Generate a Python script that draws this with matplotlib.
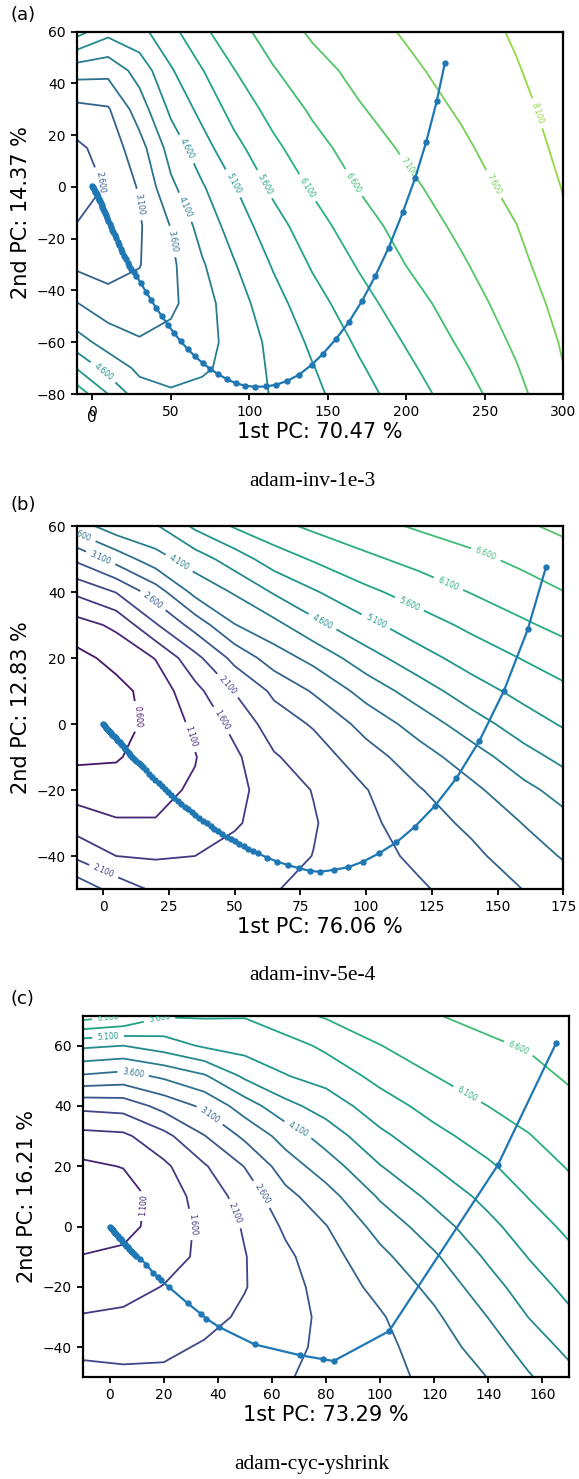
import numpy as np
import matplotlib
matplotlib.use('Agg')
import matplotlib.pyplot as plt
from matplotlib.colors import Normalize

# ---------------- data ----------------
# contour levels used in all three panels
levels = np.arange(0.1, 10.0, 0.5)

# panel (a): loss grid, one list per x node (values from y=-80 up to y=60)
xa = [-10, 10, 30, 50, 70, 90, 115, 140, 170, 200, 235, 270, 300]
ya = [-80, -70, -60, -45, -30, -15, 0, 15, 30, 45, 60]
loss_a = [
    [5.9, 5.08, 4.3, 3.62, 3.0, 2.62, 2.35, 2.5, 2.95, 3.8, 5.3],
    [5.1, 4.4, 3.9, 3.3, 2.9, 2.7, 2.65, 2.8, 3.05, 3.75, 4.75],
    [4.3, 4.0, 3.65, 3.3, 3.08, 3.05, 3.15, 3.4, 3.85, 4.3, 4.95],
    [4.15, 3.95, 3.75, 3.5, 3.5, 3.62, 4.0, 4.3, 4.7, 5.05, 5.45],
    [4.3, 4.0, 3.9, 3.9, 4.05, 4.3, 4.55, 4.9, 5.25, 5.58, 6.0],
    [4.35, 4.3, 4.28, 4.36, 4.56, 4.8, 5.07, 5.44, 5.77, 6.08, 6.4],
    [4.63, 4.67, 4.72, 4.91, 5.14, 5.4, 5.7, 5.98, 6.27, 6.56, 6.83],
    [4.98, 5.07, 5.19, 5.4, 5.65, 5.89, 6.16, 6.42, 6.67, 6.92, 7.17],
    [5.41, 5.54, 5.68, 5.91, 6.15, 6.39, 6.63, 6.83, 7.06, 7.24, 7.41],
    [5.85, 5.99, 6.14, 6.37, 6.61, 6.8, 6.99, 7.18, 7.34, 7.5, 7.65],
    [6.37, 6.52, 6.67, 6.86, 7.04, 7.21, 7.36, 7.51, 7.66, 7.79, 7.9],
    [6.95, 7.07, 7.18, 7.33, 7.47, 7.59, 7.75, 7.88, 7.98, 8.07, 8.15],
    [7.53, 7.59, 7.65, 7.76, 7.88, 8.04, 8.12, 8.2, 8.26, 8.32, 8.36],
]
traj_a_x = [0, 0.3, 0.6, 1.0, 1.5, 1.9, 2.3, 2.8, 3.2, 3.6, 4.0, 4.4, 4.8, 5.3, 5.9,
            6.4, 7.0, 7.6, 8.3, 8.9, 9.5, 10.2, 11.0, 11.7, 12.4, 13.3, 14.2, 15.1,
            16.1, 17.0, 18.0, 19.0, 20.1, 21.2, 22.4, 23.6, 24.9, 26.4, 27.9, 30.9,
            34.0, 37.2, 40.6, 44.2, 48.0, 52.0, 56.3, 60.7, 65.4, 70.2, 75.1, 80.2,
            85.5, 91.2, 97.3, 103.7, 110.5, 117.2, 124.2, 131.8, 139.7, 147.0, 155.1,
            163.4, 171.8, 180.3, 188.8, 197.8, 205.7, 212.7, 219.4, 224.5]
traj_a_y = [0.2, -0.1, -0.5, -0.9, -1.4, -1.9, -2.4, -2.9, -3.4, -3.9, -4.5, -5.0, -5.6,
            -6.2, -6.9, -7.7, -8.5, -9.3, -10.1, -11.0, -12.0, -13.1, -14.2, -15.3,
            -16.5, -17.5, -18.6, -19.9, -21.3, -22.6, -23.9, -25.2, -26.5, -27.8, -29.2,
            -30.5, -31.8, -33.0, -34.3, -37.2, -40.4, -43.5, -46.7, -49.9, -53.2, -56.4,
            -59.7, -62.6, -65.5, -68.0, -70.3, -72.4, -74.2, -75.8, -76.8, -77.2, -77.1,
            -76.4, -74.9, -72.5, -68.7, -64.4, -58.8, -52.2, -44.0, -34.3, -23.4, -9.7,
            3.6, 17.5, 33.2, 47.8]

# panel (b)
xb = [-10, 5, 20, 35, 50, 65, 80, 100, 120, 140, 160, 175]
yb = [-50, -40, -30, -20, -10, 0, 10, 20, 30, 40, 50, 60]
loss_b = [
    [2.95, 2.0, 1.35, 0.9, 0.5, 0.3, 0.3, 0.45, 0.9, 1.7, 2.7, 3.85],
    [2.4, 1.6, 1.15, 0.85, 0.55, 0.4, 0.45, 0.75, 1.2, 2.12, 3.3, 4.4],
    [2.0, 1.55, 1.12, 1.0, 0.85, 0.75, 0.8, 1.12, 2.05, 2.85, 3.9, 4.55],
    [1.78, 1.6, 1.3, 1.15, 1.08, 1.2, 1.45, 1.95, 2.8, 3.75, 4.35, 5.2],
    [1.9, 1.75, 1.55, 1.45, 1.5, 1.75, 2.12, 2.75, 3.58, 4.15, 4.85, 5.65],
    [2.08, 1.9, 1.8, 1.85, 2.05, 2.35, 2.7, 3.35, 3.95, 4.65, 5.35, 5.95],
    [2.2, 2.11, 2.06, 2.12, 2.35, 2.65, 3.15, 3.75, 4.45, 5.05, 5.65, 6.2],
    [2.38, 2.4, 2.48, 2.58, 2.88, 3.28, 3.79, 4.39, 4.97, 5.49, 6.0, 6.44],
    [2.53, 2.71, 2.88, 3.06, 3.38, 3.81, 4.35, 4.91, 5.37, 5.82, 6.26, 6.66],
    [2.83, 2.99, 3.2, 3.48, 3.86, 4.37, 4.88, 5.31, 5.71, 6.12, 6.48, 6.85],
    [3.11, 3.36, 3.62, 3.96, 4.41, 4.87, 5.26, 5.63, 6.03, 6.39, 6.72, 7.04],
    [3.34, 3.64, 3.93, 4.29, 4.74, 5.15, 5.49, 5.86, 6.24, 6.59, 6.9, 7.2],
]
traj_b_x = [0, 0.4, 0.8, 1.2, 1.6, 2.0, 2.4, 2.8, 3.2, 3.6, 4.0, 4.4, 4.8, 5.3, 5.8,
            6.3, 6.8, 7.3, 7.8, 8.4, 9.0, 9.7, 10.4, 11.1, 11.9, 12.7, 13.5, 14.4,
            15.3, 16.4, 17.5, 18.7, 19.9, 21.1, 22.3, 23.5, 24.7, 25.9, 27.1, 28.4,
            29.7, 31.1, 32.4, 33.8, 35.1, 36.5, 38.0, 39.5, 40.9, 42.3, 43.9, 45.4,
            47.0, 48.6, 50.2, 51.8, 53.5, 55.2, 57.0, 58.8, 62.5, 66.2, 70.2, 74.4,
            78.6, 82.4, 87.7, 93.2, 98.9, 104.9, 111.5, 118.6, 126.2, 134.3, 143.1,
            152.4, 161.5, 168.4]
traj_b_y = [0, -0.4, -0.7, -1.1, -1.4, -1.8, -2.1, -2.5, -2.8, -3.2, -3.6, -3.9, -4.3,
            -4.7, -5.2, -5.6, -6.1, -6.5, -7.0, -7.5, -8.1, -8.7, -9.3, -9.9, -10.5,
            -11.2, -11.8, -12.4, -13.1, -14.0, -15.0, -16.0, -17.0, -18.0, -18.9,
            -19.8, -20.7, -21.6, -22.5, -23.3, -24.2, -25.1, -25.9, -26.8, -27.6,
            -28.4, -29.3, -30.1, -30.9, -31.7, -32.5, -33.3, -34.1, -34.8, -35.6,
            -36.4, -37.1, -37.9, -38.6, -39.2, -40.5, -41.7, -42.7, -43.7, -44.5,
            -44.8, -44.2, -43.4, -41.7, -39.2, -35.9, -31.1, -24.8, -16.5, -5.1,
            10.0, 28.7, 47.5]

# panel (c)
xc = [-10, 5, 20, 35, 50, 65, 80, 100, 120, 140, 155, 170]
yc = [-50, -40, -30, -20, -10, 0, 10, 20, 30, 40, 50, 60, 70]
loss_c = [
    [2.3, 1.95, 1.63, 1.37, 1.12, 0.85, 0.8, 1.0, 1.44, 2.23, 3.55, 4.7, 6.35],
    [2.25, 1.9, 1.7, 1.4, 1.2, 0.95, 0.85, 1.12, 1.5, 2.3, 3.43, 4.6, 6.15],
    [2.2, 2.0, 1.82, 1.62, 1.38, 1.3, 1.32, 1.5, 1.95, 2.77, 3.7, 4.85, 5.65],
    [2.3, 2.15, 1.95, 1.8, 1.72, 1.72, 1.82, 2.05, 2.58, 3.2, 4.05, 5.17, 5.65],
    [2.45, 2.32, 2.18, 2.08, 2.08, 2.15, 2.3, 2.62, 3.2, 3.85, 4.7, 5.3, 5.63],
    [2.55, 2.45, 2.38, 2.4, 2.5, 2.68, 2.95, 3.35, 3.8, 4.45, 5.08, 5.4, 5.95],
    [2.78, 2.72, 2.72, 2.8, 2.9, 3.08, 3.4, 3.85, 4.32, 4.82, 5.3, 5.7, 6.15],
    [2.93, 2.97, 3.05, 3.24, 3.47, 3.78, 4.16, 4.58, 4.99, 5.38, 5.75, 6.09, 6.38],
    [3.23, 3.34, 3.51, 3.74, 4.03, 4.37, 4.74, 5.11, 5.46, 5.78, 6.097, 6.34, 6.58],
    [3.61, 3.85, 4.11, 4.4, 4.68, 4.96, 5.25, 5.53, 5.82, 6.103, 6.32, 6.53, 6.73],
    [4.05, 4.32, 4.61, 4.86, 5.12, 5.37, 5.62, 5.85, 6.08, 6.27, 6.46, 6.64, 6.83],
    [4.45, 4.73, 5.0, 5.25, 5.48, 5.71, 5.93, 6.14, 6.31, 6.48, 6.66, 6.82, 6.99],
]
traj_c_x = [0, 0.4, 0.8, 1.2, 1.6, 2.0, 2.5, 3.0, 3.5, 4.0, 4.5, 5.0, 5.5, 6.0, 6.6,
            7.2, 7.8, 8.4, 9.1, 9.9, 11.3, 13.6, 16.0, 17.9, 18.9, 21.9, 28.9, 33.9,
            35.7, 40.4, 53.6, 70.5, 78.9, 82.8, 103.3, 143.5, 165.1]
traj_c_y = [0, -0.4, -0.8, -1.2, -1.7, -2.1, -2.6, -3.1, -3.7, -4.2, -4.7, -5.3, -5.8,
            -6.3, -6.9, -7.5, -8.0, -8.6, -9.2, -9.8, -10.7, -12.6, -15.3, -16.8,
            -17.8, -20.1, -25.5, -29.1, -30.5, -33.3, -39.1, -42.7, -44.0, -44.6,
            -34.7, 20.3, 60.8]

# ---------------- layout ----------------
W, H = 579.0, 1479.0
fig = plt.figure(figsize=(W / 100, H / 100), dpi=100)
norm = Normalize(vmin=levels[0], vmax=levels[-1])
cmap = plt.get_cmap('viridis')

def px_axes(l, t, r, b):
    return fig.add_axes([l / W, 1 - b / H, (r - l) / W, (b - t) / H])

panels = [
    dict(rect=(76.7, 31.7, 563.3, 394.0), x=xa, y=ya, z=loss_a, tx=traj_a_x, ty=traj_a_y,
         xlim=(-10, 300), ylim=(-80, 60), xticks=range(0, 301, 50), yticks=range(-80, 61, 20),
         xlabel='1st PC: 70.47 %', ylabel='2nd PC: 14.37 %', caption='adam-inv-1e-3',
         cap_y=481, letter='(a)', let_y=6,
         labels=[(2.6, (6.3, 2.1)), (3.1, (28.6, -6.9)), (3.6, (51.8, -21)), (4.1, (62.4, -7)),
                 (4.6, (61.3, 15)), (4.6, (6.3, -72)), (5.1, (90, 1.5)), (5.6, (109, 0.8)),
                 (6.1, (136.5, -0.5)), (6.6, (166, 1.5)), (7.1, (201, 7.3)), (7.6, (257, 1.5)),
                 (8.1, (283.5, 28.5))]),
    dict(rect=(76.7, 526.0, 563.3, 889.0), x=xb, y=yb, z=loss_b, tx=traj_b_x, ty=traj_b_y,
         xlim=(-10, 175), ylim=(-50, 60), xticks=range(0, 176, 25), yticks=range(-40, 61, 20),
         xlabel='1st PC: 76.06 %', ylabel='2nd PC: 12.83 %', caption='adam-inv-5e-4',
         cap_y=975, letter='(b)', let_y=496,
         labels=[(0.6, (12.9, 2.2)), (1.1, (33.8, -3.8)), (1.6, (46.4, 1.7)), (2.1, (48.3, 12.3)),
                 (2.1, (-0.4, -45.8)), (2.6, (19.2, 37.6)), (3.1, (-0.4, 51.2)), (3.6, (-8, 58)),
                 (4.1, (29.3, 49.2)), (4.6, (83.1, 30.5)), (5.1, (103.7, 31)), (5.6, (116.6, 36.6)),
                 (6.1, (131.5, 42.8)), (6.6, (145.7, 51.7))]),
    dict(rect=(82.7, 1015.5, 569.3, 1377.3), x=xc, y=yc, z=loss_c, tx=traj_c_x, ty=traj_c_y,
         xlim=(-10, 170), ylim=(-50, 70), xticks=range(0, 161, 20), yticks=range(-40, 61, 20),
         xlabel='1st PC: 73.29 %', ylabel='2nd PC: 16.21 %', caption='adam-cyc-yshrink',
         cap_y=1465, letter='(c)', let_y=990,
         labels=[(1.1, (10.5, 7.3)), (1.6, (31.4, 0.9)), (2.1, (46.8, 4.5)), (2.6, (56, 10.6)),
                 (3.1, (37.6, 37.6)), (3.6, (8.9, 52.2)), (4.1, (69.6, 32.1)), (5.1, (-0.6, 62.5)),
                 (5.6, (18.5, 68.5)), (6.1, (-0.6, 68.2)), (6.1, (132.5, 44.3)), (6.6, (151.3, 59.2))]),
]

for p in panels:
    ax = px_axes(*p['rect'])
    Z = np.array(p['z']).T
    zmin, zmax = Z.min(), Z.max()
    # one contour set per level, so each label lands on its own level
    for lev in levels:
        if lev <= zmin or lev >= zmax:
            continue
        cs = ax.contour(p['x'], p['y'], Z, levels=[lev], colors=[cmap(norm(lev))],
                        linewidths=1.3)
        pos = [xy for l, xy in p['labels'] if abs(l - lev) < 1e-6]
        if pos:
            cs.clabel(manual=pos, inline=True, fontsize=5.5, fmt='%.3f')
    ax.plot(p['tx'], p['ty'], '-o', color='#1f77b4', lw=1.6, ms=3.6, zorder=5)
    ax.set_xlim(*p['xlim'])
    ax.set_ylim(*p['ylim'])
    ax.set_xticks(list(p['xticks']))
    ax.set_yticks(list(p['yticks']))
    ax.tick_params(labelsize=10, width=1.3, length=4.5)
    for s in ax.spines.values():
        s.set_linewidth(1.6)
    ax.set_xlabel(p['xlabel'], fontsize=15, labelpad=2)
    ax.set_ylabel(p['ylabel'], fontsize=15, labelpad=4)
    fig.text(10 / W, 1 - p['let_y'] / H, p['letter'], fontsize=13, ha='left', va='top')
    fig.text(312 / W, 1 - p['cap_y'] / H, p['caption'], fontsize=15.5,
             family='Liberation Serif', ha='center', va='center')

# stray extra zero under the first x tick of panel (a), as in the source figure
fig.text(92 / W, 1 - 417 / H, '0', fontsize=11, ha='center', va='center')

fig.savefig('out.png', dpi=100)
